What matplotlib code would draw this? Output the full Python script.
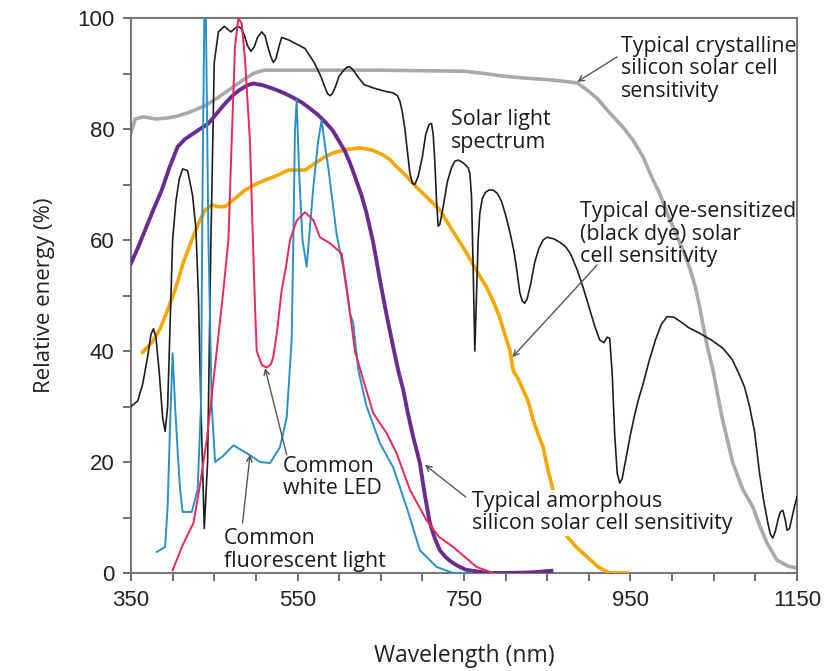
import numpy as np
import matplotlib
matplotlib.use("Agg")
import matplotlib.pyplot as plt
from matplotlib.ticker import MultipleLocator, FixedLocator

# Solar light spectrum (black)
solar_x = [350, 358, 364, 370, 374, 377, 380, 384, 388, 391, 394, 397, 400, 404, 408, 412,
           418, 424, 428, 431, 434, 438, 442, 446, 450, 455, 462, 466, 470, 474, 478, 482,
           486, 490, 494, 498, 502, 507, 511, 515, 518, 521, 524, 528, 531, 540, 559, 570,
           578, 583, 586, 589, 592, 596, 600, 605, 610, 613, 617, 622, 630, 641, 655, 665,
           670, 673, 676, 679, 682, 685, 688, 691, 695, 700, 704, 708, 711, 713, 715, 717,
           719, 721, 725, 730, 735, 739, 743, 748, 752, 755, 757, 759, 761, 763, 765, 767,
           769, 772, 776, 780, 785, 790, 795, 800, 805, 810, 814, 817, 820, 823, 826, 830,
           835, 840, 845, 850, 858, 865, 872, 878, 886, 893, 900, 907, 913, 918, 922, 925,
           928, 931, 934, 937, 940, 945, 950, 955, 960, 965, 972, 980, 987, 994, 1002, 1010,
           1020, 1033, 1047, 1061, 1072, 1080, 1087, 1093, 1099, 1105, 1110, 1115, 1118, 1121,
           1124, 1127, 1130, 1133, 1136, 1138, 1141, 1144, 1147, 1150]
solar_y = [30, 31, 34, 39, 43, 44, 42.5, 36, 28, 25.5, 30, 45, 60, 67, 71, 72.8,
           72.5, 68, 62, 50, 30, 8, 20, 60, 92, 97.5, 98.5, 98, 97.5, 98, 98.5, 98.2,
           97, 95, 94, 94.8, 96.5, 97.5, 96.8, 94.5, 93, 92, 92.6, 95, 96.5, 96, 94.5, 92,
           89.5, 87.5, 86.4, 86, 86.4, 87.8, 89.5, 90.5, 91.2, 91.2, 90.6, 89.5, 88, 87.4, 86.8, 86.5,
           86, 85, 83, 80, 76, 72, 70.2, 70, 71.5, 75, 79, 80.8, 81, 79, 74, 67,
           62.5, 62.8, 66, 70.5, 73, 74.2, 74.4, 74, 73.5, 73, 72, 68, 55, 40, 50, 60,
           64.8, 67.5, 68.6, 69, 69, 68.4, 67, 64.5, 61.5, 58, 54, 50.5, 49, 48.6, 49.5, 52,
           56, 58.5, 60, 60.5, 60.2, 59.6, 58.8, 57.5, 54.6, 51.5, 48, 44.5, 42, 41.5, 42.5, 42.3,
           36, 25, 18, 16.2, 17, 21, 25, 28.5, 31.5, 34, 38, 42, 44.8, 46.2, 46.1, 45.3,
           44.2, 43.2, 42, 40.5, 38.5, 36, 33.5, 30, 25.5, 18, 13, 9, 7, 6.3,
           7.5, 9.5, 11, 11.3, 9.5, 7.7, 8, 10, 12, 13.7]

# Typical crystalline silicon solar cell sensitivity (grey)
csi_x = [350, 355, 365, 380, 395, 405, 420, 439, 455, 471, 485, 497, 505, 511, 550, 650,
         750, 775, 793, 820, 850, 870, 886, 898, 910, 925, 940, 953, 965, 975, 985, 995,
         1005, 1015, 1022, 1028, 1033, 1038, 1042, 1049, 1060, 1073, 1085, 1097, 1105, 1114,
         1126, 1140, 1150]
csi_y = [79.3, 81.8, 82.2, 81.8, 82, 82.3, 83, 84.2, 85.7, 87.4, 88.9, 90, 90.4, 90.6, 90.6, 90.6,
         90.4, 90, 89.6, 89.2, 88.9, 88.6, 88.3, 87, 85.5, 82.9, 80.5, 78, 75, 71.5, 68.4, 64.5,
         61, 57.5, 54.5, 51.5, 48, 44, 41, 36.6, 28, 19.8, 15, 11.9, 8.6, 5.4,
         2.3, 1.2, 0.9]

# Typical amorphous silicon solar cell sensitivity (purple)
asi_x = [350, 358, 367, 377, 387, 396, 406, 415, 423, 433, 443, 453, 463, 472, 480, 490,
         497, 508, 520, 532, 543, 555, 565, 575, 583, 592, 600, 607, 613, 620, 627, 633,
         641, 649, 657, 665, 671, 677, 683, 689, 697, 703, 709, 715, 721, 727, 733, 740,
         745, 752, 760, 770, 778, 800, 830, 855]
asi_y = [55.8, 58.5, 61.8, 65.5, 69, 73, 76.8, 78.2, 79, 80, 81, 82.8, 84.6, 86, 87, 87.9,
         88.2, 87.9, 87.3, 86.6, 85.8, 84.8, 83.7, 82.5, 81.3, 79.8, 77.8, 76, 73.9, 71, 68, 64.8,
         59.5, 52.8, 46.5, 40.7, 36.5, 33, 28.5, 24.5, 19.8, 14, 9, 6.2, 4.1, 3, 2.2, 1.5,
         1.1, 0.6, 0.4, 0.2, 0, 0, 0.1, 0.4]

# Typical dye-sensitized (black dye) solar cell sensitivity (orange)
dye_x = [364, 375, 385, 393, 403, 413, 423, 431, 439, 447, 455, 463, 475, 487, 499, 511,
         525, 539, 559, 571, 583, 593, 609, 625, 640, 653, 661, 669, 681, 693, 707, 721,
         737, 753, 765, 777, 785, 793, 799, 805, 809, 815, 821, 827, 833, 839, 845, 851,
         856, 865, 874, 886, 898, 912, 925, 946]
dye_y = [39.8, 41.5, 44, 47, 51, 56, 60, 63, 65.4, 66.3, 66, 66, 67.5, 69, 70, 70.8,
         71.6, 72.6, 72.6, 73.8, 75, 75.7, 76.3, 76.6, 76.2, 75.3, 74.5, 73.2, 71.5, 69.5, 67.5, 65.4,
         61.5, 57.7, 54.5, 51.5, 49, 46, 43, 40.2, 36.5, 35, 33, 31, 27.6, 25, 22.7, 18.5,
         15.5, 11, 6.5, 4.5, 2.9, 1, 0, 0]

# Common white LED (red)
led_x = [400, 412, 425, 433, 441, 447, 453, 461, 467, 471, 475, 479, 483, 487, 490, 493,
         496, 499, 501, 507, 513, 518, 521, 525, 528, 531, 536, 541, 549, 559, 569, 577,
         589, 603, 609, 619, 629, 641, 657, 669, 685, 705, 720, 737, 765, 785]
led_y = [0.5, 5, 9, 16, 24, 32, 40, 51, 60, 78, 95, 100, 99, 92.4, 85, 77.5,
         62, 48, 40, 37.5, 37, 37.6, 39, 43, 47, 51, 55, 60, 63.5, 65, 63.6, 60.5,
         59.4, 57.6, 51.5, 40, 34.8, 28.8, 25.2, 21.6, 15, 9.5, 6.5, 4.7, 1.1, 0]

# Common fluorescent light (blue)
fl_x = [381, 391, 394, 397, 400, 403, 406, 409, 412, 423, 430, 434, 436, 438, 440, 443,
        447, 451, 460, 473, 489, 505, 517, 529, 537, 543, 545, 547, 549, 552, 556, 561,
        569, 575, 579, 583, 587, 597, 605, 613, 617, 623, 633, 649, 665, 681, 697, 717,
        737, 760]
fl_y = [3.8, 4.7, 12, 27, 39.6, 30, 22, 15, 11, 11, 15, 30, 70, 100, 100, 60,
        30, 20, 21, 23, 21.6, 20, 19.8, 22.7, 28, 42, 60, 80, 85.2, 72, 60, 55.2,
        69.5, 78, 81.6, 77, 73, 61, 55, 46.8, 45, 36.6, 30, 23.4, 19, 11.9, 4.1, 1.1,
        0, 0]

x_ticks = [350, 550, 750, 950, 1150]
y_ticks = [0, 20, 40, 60, 80, 100]

txt_font = ["Open Sans", "DejaVu Sans"]
num_font = ["Liberation Sans", "DejaVu Sans"]

fig = plt.figure(figsize=(8.37, 6.71), dpi=100)
ax = fig.add_axes([131 / 837, 98 / 671, 666 / 837, 555 / 671])

ax.plot(csi_x, csi_y, color="#a9a9a9", lw=2.6, zorder=2)
ax.plot(dye_x, dye_y, color="#f4a700", lw=2.6, zorder=3)
ax.plot(solar_x, solar_y, color="#1e1e1e", lw=1.2, zorder=4)
ax.plot(asi_x, asi_y, color="#6b2c8f", lw=2.8, zorder=5)
ax.plot(fl_x, fl_y, color="#2a90c8", lw=1.4, zorder=6)
ax.plot(led_x, led_y, color="#e8285a", lw=1.4, zorder=7)

ax.set_xlim(350, 1150)
ax.set_ylim(0, 100)
ax.xaxis.set_major_locator(FixedLocator(x_ticks))
ax.xaxis.set_minor_locator(MultipleLocator(50))
ax.yaxis.set_major_locator(FixedLocator(y_ticks))
ax.yaxis.set_minor_locator(MultipleLocator(10))
ax.tick_params(which="both", direction="out", length=6, width=1.2, color="#555555")
ax.tick_params(labelsize=16, pad=6)
for lab in ax.get_xticklabels() + ax.get_yticklabels():
    lab.set_family(num_font)
    lab.set_color("#222222")
for s in ax.spines.values():
    s.set_color("#777777")
    s.set_linewidth(1.5)

ax.set_xlabel("Wavelength (nm)", family=txt_font, fontsize=16.5, labelpad=24, color="#222222")
ax.set_ylabel("Relative energy (%)", family=txt_font, fontsize=16, labelpad=16, color="#222222")

arrow = dict(arrowstyle="->", color="#555555", lw=1.0, shrinkA=0, shrinkB=0)
tk = dict(family=txt_font, fontsize=15.4, color="#1a1a1a", va="top", ha="left", linespacing=1.1, zorder=10)

ax.text(938, 96.8, "Typical crystalline\nsilicon solar cell\nsensitivity", **tk)
ax.annotate("", xy=(886, 88.5), xytext=(934, 93), arrowprops=arrow, zorder=10)
ax.text(734, 83.6, "Solar light\nspectrum", **tk)
ax.text(889, 67, "Typical dye-sensitized\n(black dye) solar\ncell sensitivity", **tk)
ax.annotate("", xy=(808, 38.9), xytext=(910, 55.5), arrowprops=arrow, zorder=10)
ax.text(760, 14.8, "Typical amorphous\nsilicon solar cell sensitivity",
        bbox=dict(facecolor="white", edgecolor="none", pad=1), **tk)
ax.annotate("", xy=(703, 19.5), xytext=(752, 13.7), arrowprops=arrow, zorder=10)
ax.text(532, 21.1, "Common\nwhite LED", **tk)
ax.annotate("", xy=(511, 36.9), xytext=(537, 21.3), arrowprops=arrow, zorder=10)
ax.text(462, 8.1, "Common\nfluorescent light", **tk)
ax.annotate("", xy=(493, 21.3), xytext=(484, 9), arrowprops=arrow, zorder=10)

fig.savefig("out.png", dpi=100)
